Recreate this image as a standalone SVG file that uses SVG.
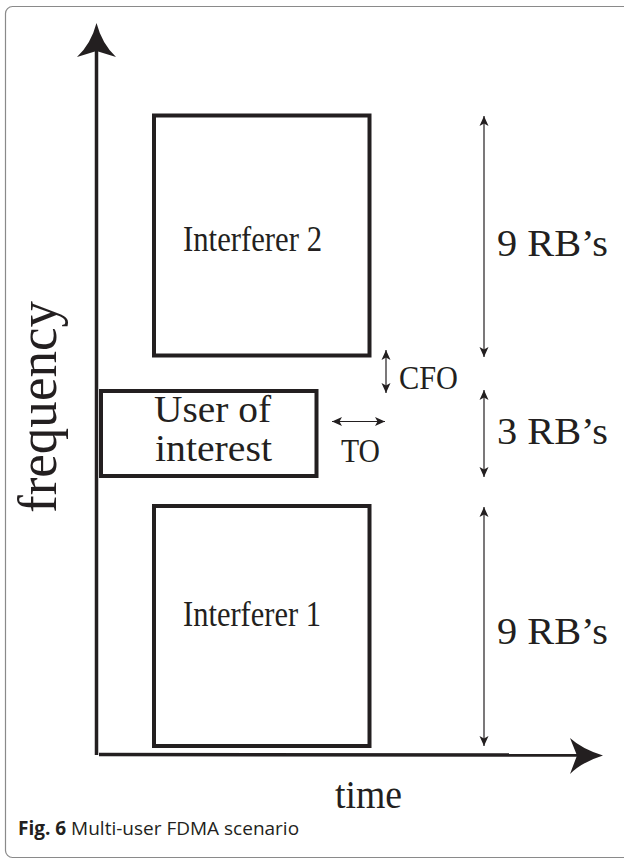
<svg xmlns="http://www.w3.org/2000/svg" width="624" height="860" viewBox="0 0 624 860">
<style>
.box{fill:none;stroke:#231f20;stroke-width:4}
.axis{stroke:#231f20;stroke-width:3.5;fill:none}
.dim{stroke:#231f20;stroke-width:1.2;fill:none;marker-start:url(#ah);marker-end:url(#ah)}
.lbl{font-family:"Liberation Serif","Times New Roman",serif;fill:#231f20;font-size:34px}
.big{font-size:37px}
.mid{font-size:35px}
.cap{font-family:"Open Sans","Liberation Sans",sans-serif;fill:#231f20;font-size:19px}
</style>
<defs>
<marker id="ah" viewBox="0 0 10 10" refX="10" refY="5" markerWidth="10" markerHeight="10" markerUnits="userSpaceOnUse" orient="auto-start-reverse">
<path d="M10,5 L0,0.5 L2.5,5 L0,9.5 Z" fill="#231f20"/>
</marker>
</defs>
<rect x="5.5" y="6.5" width="640" height="851" rx="7" fill="none" stroke="#8a8a8a" stroke-width="1.2"/>
<g id="axes">
<line class="axis" x1="96.5" y1="755" x2="96.5" y2="50"/>
<path d="M96.5,23 Q102,44 116,57 L96.5,51 L77,57 Q91,44 96.5,23 Z" fill="#231f20"/>
<line class="axis" x1="99" y1="754.5" x2="578" y2="755"/>
<path d="M603,755.5 Q582,762 570,774 L577,755.5 L570,738 Q582,749 603,755.5 Z" fill="#231f20"/>
<text class="lbl" transform="translate(56,407) rotate(-90)" text-anchor="middle" style="font-size:54px" textLength="212" lengthAdjust="spacingAndGlyphs">frequency</text>
<text class="lbl" x="335" y="808" style="font-size:40px" textLength="67" lengthAdjust="spacingAndGlyphs">time</text>
</g>
<g id="interferer2">
<rect class="box" x="154" y="115.5" width="215.5" height="240"/>
<text class="lbl mid" x="183" y="251" textLength="139" lengthAdjust="spacingAndGlyphs">Interferer 2</text>
</g>
<g id="user">
<rect class="box" x="101" y="391" width="215.5" height="85"/>
<text class="lbl big" x="154" y="422" textLength="117" lengthAdjust="spacingAndGlyphs">User of</text>
<text class="lbl big" x="155" y="461" textLength="117" lengthAdjust="spacingAndGlyphs">interest</text>
</g>
<g id="interferer1">
<rect class="box" x="154" y="506" width="215.5" height="240"/>
<text class="lbl mid" x="183" y="626" textLength="138" lengthAdjust="spacingAndGlyphs">Interferer 1</text>
</g>
<g id="connectors">
<line class="dim" x1="484" y1="116" x2="484" y2="357"/>
<line class="dim" x1="484" y1="390" x2="484" y2="477"/>
<line class="dim" x1="484" y1="507" x2="484" y2="746"/>
<line class="dim" x1="386" y1="350" x2="386" y2="393"/>
<line class="dim" x1="332" y1="421.5" x2="385" y2="421.5"/>
</g>
<g id="labels">
<text class="lbl big" x="497" y="256" textLength="111" lengthAdjust="spacingAndGlyphs">9 RB’s</text>
<text class="lbl big" x="497" y="444" textLength="111" lengthAdjust="spacingAndGlyphs">3 RB’s</text>
<text class="lbl big" x="497" y="644" textLength="111" lengthAdjust="spacingAndGlyphs">9 RB’s</text>
<text class="lbl" x="399" y="389" textLength="59" lengthAdjust="spacingAndGlyphs">CFO</text>
<text class="lbl" x="341" y="462" textLength="39" lengthAdjust="spacingAndGlyphs">TO</text>
</g>
<text class="cap" x="18" y="835"><tspan font-weight="bold">Fig. 6</tspan> Multi-user FDMA scenario</text>
</svg>
